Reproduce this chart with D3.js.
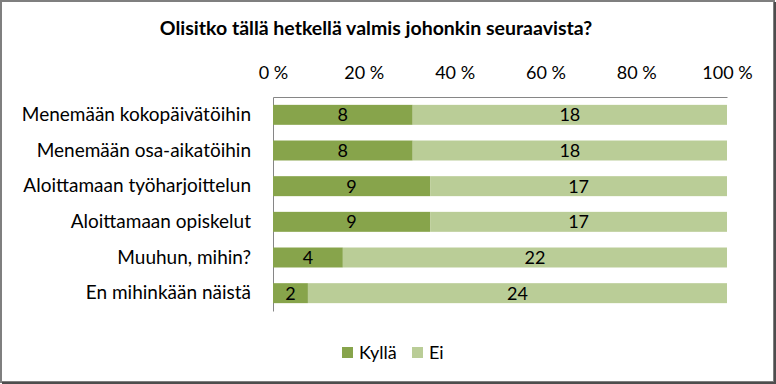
<!DOCTYPE html>
<html>
<head>
<meta charset="utf-8">
<script src="https://cdn.jsdelivr.net/npm/d3@7"></script>
<style>
  body { margin: 0; background: #fff; }
  svg { display: block; font-family: Lato, "Open Sans", sans-serif; }
</style>
</head>
<body>
<svg width="776" height="384"></svg>
<script>
var categories = ["Menemään kokopäivätöihin", "Menemään osa-aikatöihin", "Aloittamaan työharjoittelun",
                  "Aloittamaan opiskelut", "Muuhun, mihin?", "En mihinkään näistä"];
var kylla = [8, 8, 9, 9, 4, 2];
var ei = [18, 18, 17, 17, 22, 24];
var seriesNames = ["Kyllä", "Ei"];
var tickValues = [0, 0.2, 0.4, 0.6, 0.8, 1];

function main() {
    var svg = d3.select("svg");
    var colors = ["#87a44b", "#bacd97"];

    // frame with dark edges
    svg.append("rect").attr("x", 1).attr("y", 1).attr("width", 773).attr("height", 381)
        .attr("fill", "#fff").attr("stroke", "#7f7f7f").attr("stroke-width", 2);
    svg.append("line").attr("x1", 775).attr("x2", 775).attr("y1", 2).attr("y2", 384)
        .attr("stroke", "#4d4d4d").attr("stroke-width", 2);
    svg.append("line").attr("x1", 2).attr("x2", 776).attr("y1", 383).attr("y2", 383)
        .attr("stroke", "#4d4d4d").attr("stroke-width", 2);

    svg.append("text")
        .attr("x", 376).attr("y", 35)
        .attr("text-anchor", "middle")
        .attr("font-size", "19.5px").attr("font-weight", "bold")
        .text("Olisitko tällä hetkellä valmis johonkin seuraavista?");

    var left = 273, right = 727, top = 97, bottom = 311;

    var data = categories.map(function(c, i) {
        var t = kylla[i] + ei[i];
        return { cat: c, k: kylla[i], e: ei[i], pk: kylla[i] / t, pe: ei[i] / t };
    });

    var x = d3.scaleLinear().domain([0, 1]).range([left, right]);
    var y = d3.scaleBand().domain(categories).range([top, bottom]).paddingInner(0.44).paddingOuter(0.22);

    // top axis
    var xAxis = svg.append("g").attr("transform", "translate(0," + top + ")")
        .call(d3.axisTop(x).tickValues(tickValues).tickSize(0).tickPadding(18)
            .tickFormat(function(d) { return Math.round(d * 100) + " %"; }));
    xAxis.select(".domain").attr("stroke", "#868686");
    xAxis.selectAll("text").attr("font-size", "18px").attr("font-family", "Lato, sans-serif").attr("fill", "#000");

    var yAxis = svg.append("g").attr("transform", "translate(" + left + ",0)")
        .call(d3.axisLeft(y).tickSize(0).tickPadding(22));
    yAxis.select(".domain").attr("stroke", "#868686");
    yAxis.selectAll("text").attr("font-size", "19px").attr("font-family", "Lato, sans-serif").attr("fill", "#000");

    var rows = svg.selectAll(".row").data(data).enter().append("g").attr("class", "row");

    rows.append("rect")
        .attr("x", function(d) { return x(0); })
        .attr("y", function(d) { return y(d.cat); })
        .attr("width", function(d) { return x(d.pk) - x(0); })
        .attr("height", y.bandwidth())
        .attr("fill", colors[0]);
    rows.append("rect")
        .attr("x", function(d) { return x(d.pk); })
        .attr("y", function(d) { return y(d.cat); })
        .attr("width", function(d) { return x(1) - x(d.pk); })
        .attr("height", y.bandwidth())
        .attr("fill", colors[1]);

    rows.append("text")
        .attr("x", function(d) { return x(d.pk / 2); })
        .attr("y", function(d) { return y(d.cat) + y.bandwidth() / 2; })
        .attr("dy", "0.36em").attr("text-anchor", "middle").attr("font-size", "18px")
        .text(function(d) { return d.k; });
    rows.append("text")
        .attr("x", function(d) { return x(d.pk + d.pe / 2); })
        .attr("y", function(d) { return y(d.cat) + y.bandwidth() / 2; })
        .attr("dy", "0.36em").attr("text-anchor", "middle").attr("font-size", "18px")
        .text(function(d) { return d.e; });

    // legend
    var legX = [342, 412];
    var leg = svg.selectAll(".leg").data(seriesNames).enter().append("g")
        .attr("transform", function(d, i) { return "translate(" + legX[i] + ",347)"; });
    leg.append("rect").attr("width", 11).attr("height", 11)
        .attr("fill", function(d, i) { return colors[i]; });
    leg.append("text").attr("x", 17).attr("y", 6).attr("dy", "0.36em")
        .attr("font-size", "18px").text(function(d) { return d; });
}

main();
</script>
</body>
</html>
